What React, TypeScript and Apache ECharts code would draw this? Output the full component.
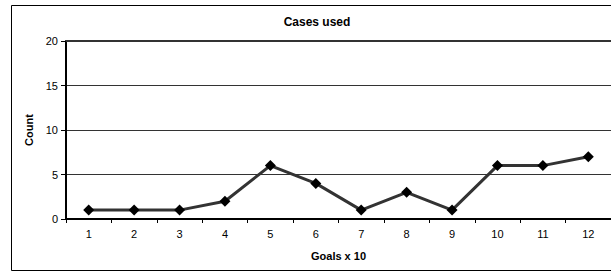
import React, { useEffect, useRef } from "react";
import * as echarts from "echarts";

const categories = ["1", "2", "3", "4", "5", "6", "7", "8", "9", "10", "11", "12"];
const casesUsed = [1, 1, 1, 2, 6, 4, 1, 3, 1, 6, 6, 7];
const yTicks = { min: 0, max: 20, interval: 5 };
const titleText = "Cases used";
const xName = "Goals x 10";
const yName = "Count";

export default function App() {
  const ref = useRef<HTMLDivElement>(null);
  useEffect(() => {
    if (!ref.current) return;
    const chart = echarts.init(ref.current, null, { renderer: "svg" });
    const font = "'Liberation Sans', Arial, sans-serif";
    chart.setOption({
      animation: false,
      backgroundColor: "#ffffff",
      textStyle: { fontFamily: font },
      grid: { left: 66, right: 0, top: 41, bottom: 54 },
      graphic: [
        {
          type: "rect",
          shape: { x: 11.5, y: 5.5, width: 640, height: 265 },
          style: { fill: "none", stroke: "#000", lineWidth: 1 },
          z: 0,
        },
        {
          type: "text",
          x: 317,
          y: 22,
          style: {
            text: titleText,
            font: `bold 12px ${font}`,
            fill: "#000",
            textAlign: "center",
            textVerticalAlign: "middle",
          },
        },
      ],
      xAxis: [
        {
          type: "category",
          data: categories,
          boundaryGap: true,
          position: "bottom",
          name: xName,
          nameLocation: "middle",
          nameGap: 31,
          nameTextStyle: { fontFamily: font, fontSize: 11, fontWeight: "bold", color: "#000" },
          axisLine: { show: true, lineStyle: { color: "#000", width: 2 } },
          axisTick: { show: true, alignWithLabel: false, length: 4, lineStyle: { color: "#000", width: 1 } },
          axisLabel: { fontFamily: font, fontSize: 11, color: "#000", margin: 9 },
          splitLine: { show: false },
        },
        {
          type: "category",
          data: categories,
          position: "top",
          axisLine: { show: true, lineStyle: { color: "#333", width: 2 } },
          axisTick: { show: false },
          axisLabel: { show: false },
          splitLine: { show: false },
        },
      ],
      yAxis: {
        type: "value",
        min: yTicks.min,
        max: yTicks.max,
        interval: yTicks.interval,
        name: yName,
        nameLocation: "middle",
        nameGap: 27,
        nameTextStyle: { fontFamily: font, fontSize: 11, fontWeight: "bold", color: "#000" },
        axisLine: { show: true, lineStyle: { color: "#000", width: 2 } },
        axisTick: { show: true, length: 5, lineStyle: { color: "#000", width: 1 } },
        axisLabel: { fontFamily: font, fontSize: 11, color: "#000", margin: 8 },
        splitLine: { show: true, lineStyle: { color: "#333", width: 1 } },
      },
      series: [
        {
          type: "line",
          data: casesUsed,
          xAxisIndex: 0,
          symbol: "diamond",
          symbolSize: 11,
          itemStyle: { color: "#000" },
          lineStyle: { color: "#333", width: 3 },
          z: 5,
        },
      ],
    });
    return () => chart.dispose();
  }, []);
  return (
    <div
      ref={ref}
      style={{ position: "absolute", left: 0, top: 0, width: 611, height: 273 }}
    />
  );
}
